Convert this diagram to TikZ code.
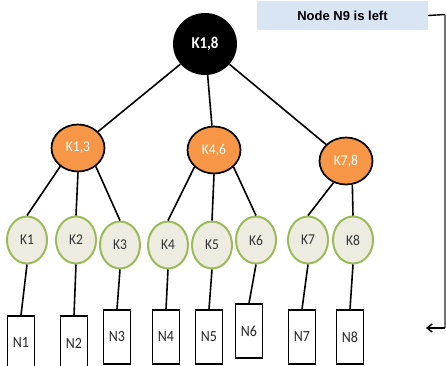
\documentclass[tikz,border=0pt]{standalone}
\usepackage{fontspec}
\setmainfont{Carlito}
\newfontfamily\labelfont[FakeStretch=0.9]{Carlito}
\newfontfamily\notefont{Liberation Sans}
\usetikzlibrary{shapes.geometric,arrows.meta}
\definecolor{rootfill}{HTML}{000000}
\definecolor{midfill}{HTML}{F79646}
\definecolor{leaffill}{HTML}{EEECE1}
\definecolor{leafline}{HTML}{9BBB59}
\definecolor{notefill}{HTML}{DAE5F3}
\tikzset{
  x=1pt, y=-1pt,
  edge/.style={line width=1.6pt, black},
  rootnode/.style={ellipse, fill=rootfill, minimum width=64pt, minimum height=62pt,
    inner sep=0pt, text=white, font=\labelfont\bfseries\fontsize{16.5}{16.5}\selectfont},
  midnode/.style={ellipse, draw=black, line width=1.7pt, fill=midfill,
    minimum width=53pt, minimum height=47pt, inner sep=0pt, text=white,
    font=\labelfont\fontsize{15}{15}\selectfont},
  keynode/.style={ellipse, draw=leafline, line width=2pt, fill=leaffill,
    minimum width=40pt, minimum height=47pt, inner sep=0pt, text=black!80,
    font=\labelfont\fontsize{15}{15}\selectfont},
  datanode/.style={rectangle, draw=black, line width=1.7pt, fill=white,
    minimum width=27pt, minimum height=54pt, inner sep=0pt, text=black!85,
    font=\labelfont\fontsize{15.5}{15.5}\selectfont},
  notebox/.style={rectangle, fill=notefill, minimum width=171pt, minimum height=29pt,
    inner sep=0pt, font=\notefont\bfseries\fontsize{13}{13}\selectfont},
}
\begin{document}
\begin{tikzpicture}
\useasboundingbox (0,0) rectangle (446,365);
\clip (0,0) rectangle (446,365);
\fill[white] (0,0) rectangle (446,365);

% root and second level
\node[rootnode] (K18) at (205,44) {K1,8};
\node[midnode] (K13) at (78,148) {K1,3};
\node[midnode] (K46) at (214,150) {K4,6};
\node[midnode] (K78) at (346,161) {K7,8};

% key nodes
\node[keynode] (K1) at (27,240) {K1};
\node[keynode] (K2) at (76,240) {K2};
\node[keynode] (K3) at (120,245) {K3};
\node[keynode] (K4) at (168,245) {K4};
\node[keynode] (K5) at (212,245) {K5};
\node[keynode] (K6) at (256,240) {K6};
\node[keynode] (K7) at (308,240) {K7};
\node[keynode] (K8) at (353,240) {K8};

% data nodes
\node[datanode] (N1) at (21,343) {N1};
\node[datanode] (N2) at (74,343) {N2};
\node[datanode] (N3) at (117,337) {N3};
\node[datanode] (N4) at (166,337) {N4};
\node[datanode] (N5) at (209,337) {N5};
\node[datanode] (N6) at (249,331) {N6};
\node[datanode] (N7) at (302,337) {N7};
\node[datanode] (N8) at (350,337) {N8};

% note and its return arrow
\node[notebox] (note) at (342.5,15.5) {Node N9 is left};
\coordinate (turnA) at (445,14.5);
\coordinate (turnB) at (445,328);
\coordinate (tip) at (426,328);

% tree connectors
\draw[edge] (K18) -- (K13);
\draw[edge] (K18) -- (K46);
\draw[edge] (K18) -- (K78);
\draw[edge] (K13.226) -- (K1.north);
\draw[edge] (K13.south) -- (K2.north);
\draw[edge] (K13.314) -- (K3.north);
\draw[edge] (K46.221) -- (K4.north);
\draw[edge] (K46.south) -- (K5.north);
\draw[edge] (K46.319) -- (K6.north);
\draw[edge] (K78.240) -- (K7.north);
\draw[edge] (K78.285) -- (K8.north);
\draw[edge] (K1.south) -- (N1.north);
\draw[edge] (K2.south) -- (N2.north);
\draw[edge] (K3.south) -- (N3.north);
\draw[edge] (K4.south) -- (N4.north);
\draw[edge] (K5.south) -- (N5.north);
\draw[edge] (K6.south) -- (N6.north);
\draw[edge] (K7.south) -- (N7.north);
\draw[edge] (K8.south) -- (N8.north);

\draw[line width=1.4pt] (note.east) -- (turnA);
\draw[line width=1.2pt, black!55] (turnA) -- (turnB);
\draw[line width=1.4pt, -{Straight Barb[length=5pt,width=8pt]}] (turnB) -- (tip);
\end{tikzpicture}
\end{document}
